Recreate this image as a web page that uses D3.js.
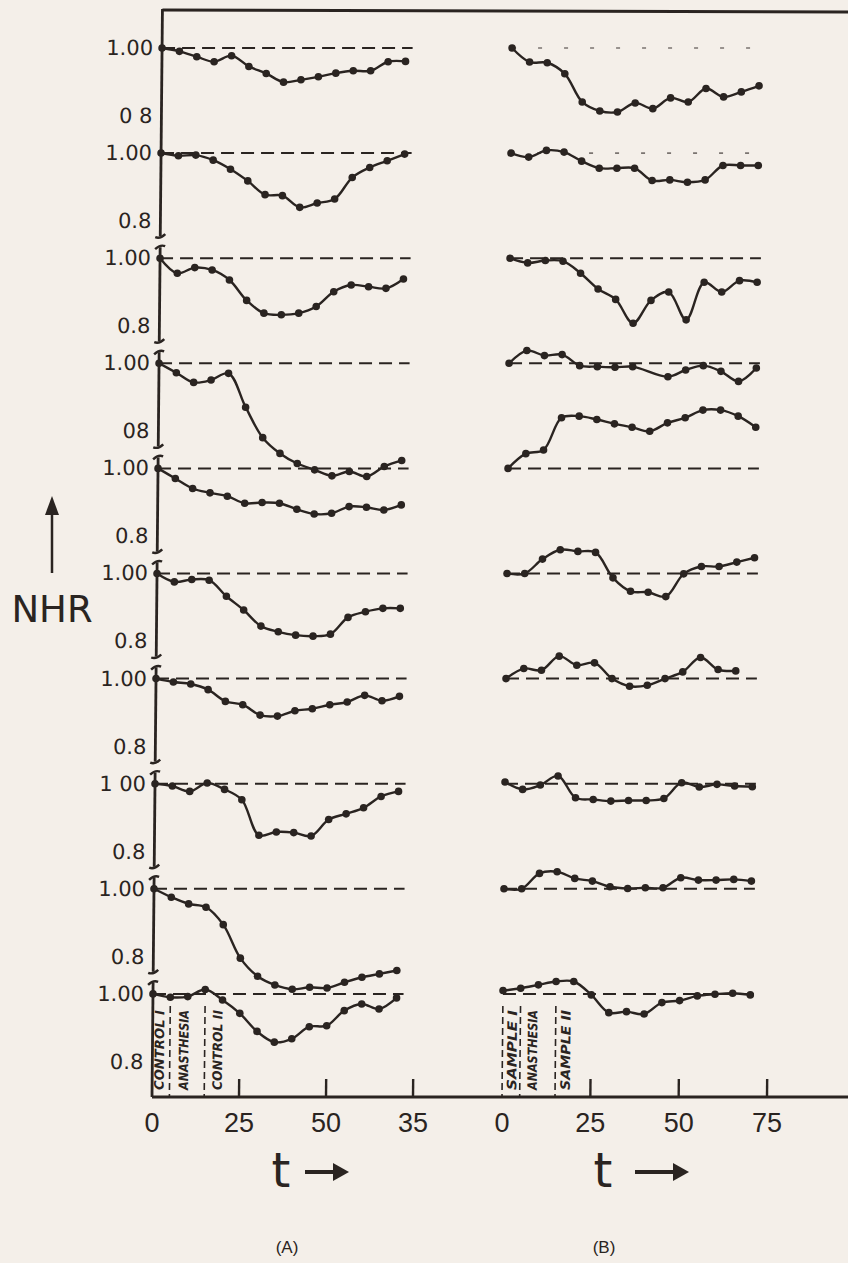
<!DOCTYPE html>
<html>
<head>
<meta charset="utf-8">
<style>
  body { margin: 0; background: #f4efe9; }
  svg { display: block; }
</style>
</head>
<body>
<svg id="viz"></svg>
<script src="https://d3js.org/d3.v7.min.js"></script>
<script>
var times = [0, 5, 10, 15, 20, 25, 30, 35, 40, 45, 50, 55, 60, 65, 70];

// panel (A), rows top to bottom
var a1 = [1.00, 0.990, 0.974, 0.959, 0.977, 0.945, 0.924, 0.898, 0.905, 0.914, 0.925, 0.932, 0.932, 0.959, 0.960];
var a2 = [1.00, 0.992, 0.994, 0.979, 0.952, 0.917, 0.876, 0.873, 0.838, 0.851, 0.863, 0.927, 0.957, 0.977, 0.997];
var a3 = [1.00, 0.955, 0.972, 0.965, 0.935, 0.874, 0.836, 0.831, 0.836, 0.856, 0.900, 0.920, 0.915, 0.910, 0.938];
var a4 = [1.00, 0.972, 0.943, 0.950, 0.970, 0.869, 0.778, 0.731, 0.701, 0.682, 0.664, 0.677, 0.662, 0.692, 0.710];
var a5 = [1.00, 0.970, 0.940, 0.927, 0.917, 0.896, 0.898, 0.896, 0.878, 0.864, 0.866, 0.886, 0.884, 0.876, 0.891];
var a6 = [1.00, 0.975, 0.982, 0.980, 0.932, 0.891, 0.843, 0.826, 0.816, 0.813, 0.819, 0.869, 0.886, 0.896, 0.896];
var a7 = [1.00, 0.990, 0.984, 0.967, 0.932, 0.922, 0.891, 0.888, 0.904, 0.910, 0.922, 0.930, 0.950, 0.934, 0.947];
var a8 = [1.00, 0.993, 0.977, 1.002, 0.983, 0.952, 0.846, 0.856, 0.854, 0.844, 0.893, 0.910, 0.928, 0.962, 0.977];
var a9 = [1.00, 0.975, 0.955, 0.945, 0.893, 0.793, 0.739, 0.713, 0.700, 0.706, 0.704, 0.721, 0.736, 0.746, 0.756];
var a10 = [1.00, 0.990, 0.992, 1.013, 0.982, 0.942, 0.888, 0.856, 0.866, 0.902, 0.905, 0.950, 0.970, 0.955, 0.988];

// panel (B), rows top to bottom (null = no reading)
var b1 = [1.00, 0.958, 0.956, 0.923, 0.839, 0.812, 0.809, 0.836, 0.819, 0.851, 0.839, 0.879, 0.854, 0.869, 0.887];
var b2 = [1.00, 0.988, 1.008, 1.003, 0.976, 0.955, 0.955, 0.955, 0.918, 0.920, 0.913, 0.920, 0.963, 0.963, 0.963];
var b3 = [1.00, 0.986, 0.993, 0.991, 0.955, 0.908, 0.877, 0.806, 0.874, 0.899, 0.816, 0.928, 0.899, 0.933, 0.928];
var b4 = [1.00, 1.038, 1.023, 1.026, 0.993, 0.990, 0.988, 0.990, null, 0.960, 0.980, 0.993, 0.976, 0.946, 0.986];
var b5 = [1.00, 1.044, 1.055, 1.151, 1.156, 1.146, 1.133, 1.123, 1.111, 1.136, 1.151, 1.174, 1.174, 1.156, 1.123];
var b6 = [1.00, 1.00, 1.043, 1.071, 1.066, 1.063, 0.987, 0.947, 0.944, 0.931, 0.999, 1.021, 1.021, 1.034, 1.047];
var b7 = [1.00, 1.030, 1.025, 1.067, 1.040, 1.047, 1.00, 0.977, 0.980, 1.00, 1.020, 1.063, 1.027, 1.023];
var b8 = [1.005, 0.983, 0.996, 1.023, 0.958, 0.953, 0.948, 0.950, 0.950, 0.956, 1.003, 0.990, 0.998, 0.993, 0.991];
var b9 = [1.00, 1.00, 1.046, 1.051, 1.031, 1.023, 1.006, 1.001, 1.003, 1.003, 1.033, 1.026, 1.026, 1.028, 1.023];
var b10 = [1.010, 1.017, 1.027, 1.037, 1.037, 0.997, 0.944, 0.947, 0.940, 0.974, 0.980, 0.994, 0.999, 1.002, 0.997];

var seriesA = [a1, a2, a3, a4, a5, a6, a7, a8, a9, a10];
var seriesB = [b1, b2, b3, b4, b5, b6, b7, b8, b9, b10];

var upperLabels = ["1.00", "1.00", "1.00", "1.00", "1.00", "1.00", "1.00", "1 00", "1.00", "1.00"];
var lowerLabels = ["0 8", "0.8", "0.8", "08", "0.8", "0.8", "0.8", "0.8", "0.8", "0.8"];

var tickValues = [0, 25, 50, 75];
var tickLabelsA = ["0", "25", "50", "35"];
var tickLabelsB = ["0", "25", "50", "75"];

var phaseLinesA = [5, 15];
var phaseNamesA = ["CONTROL I", "ANASTHESIA", "CONTROL II"];
var phaseNameTA = [2.3, 9.3, 19];
var phaseLinesB = [0, 5, 15];
var phaseNamesB = ["SAMPLE I", "ANASTHESIA", "SAMPLE II"];
var phaseNameTB = [3, 8.8, 18.2];

var width = 848, height = 1263;
var ink = "#2a2421";
var axisX = 152, axisY = 1097;
var rowTop = 48, rowStep = 105.1, rowSpan = 67;

var svg = d3.select("#viz").attr("width", width).attr("height", height);
svg.append("rect").attr("width", width).attr("height", height).attr("fill", "#f4efe9");

var xA = d3.scaleLinear().domain([0, 75]).range([axisX, 413]);
var xB = d3.scaleLinear().domain([0, 75]).range([502, 767]);

function rowY(i) {
  var base = rowTop + i * rowStep;
  return d3.scaleLinear().domain([0.8, 1.0]).range([base + rowSpan, base]);
}

// the scan leans a little, so the plot body is skewed
var g = svg.append("g")
  .attr("transform", "translate(0," + axisY + ") skewX(-0.55) translate(0," + (-axisY) + ")");

// top frame line
g.append("line")
  .attr("x1", axisX).attr("x2", 840).attr("y1", 10).attr("y2", 12)
  .attr("stroke", ink).attr("stroke-width", 3);

// broken vertical axis: one piece per row group
var pieces = [[9, rowY(1)(0.8) + 16]];
for (var i = 2; i < 9; i++) pieces.push([rowY(i)(1) - 11, rowY(i)(0.8) + 16]);
pieces.push([rowY(9)(1) - 11, axisY]);

pieces.forEach(function(p, k) {
  g.append("line")
    .attr("x1", axisX).attr("x2", axisX).attr("y1", p[0]).attr("y2", p[1])
    .attr("stroke", ink).attr("stroke-width", 2.8);
  if (k > 0) {
    g.append("path")
      .attr("d", "M" + (axisX - 5) + "," + (p[0] + 2) + " Q" + axisX + "," + (p[0] - 3) + " " + (axisX + 5) + "," + (p[0] - 1))
      .attr("fill", "none").attr("stroke", ink).attr("stroke-width", 2.4);
  }
  if (k < pieces.length - 1) {
    g.append("path")
      .attr("d", "M" + (axisX - 5) + "," + (p[1] + 1) + " Q" + axisX + "," + (p[1] + 3) + " " + (axisX + 5) + "," + (p[1] - 2))
      .attr("fill", "none").attr("stroke", ink).attr("stroke-width", 2.4);
  }
});

// row labels
seriesA.forEach(function(s, i) {
  var y = rowY(i);
  g.append("text").attr("x", axisX - 9).attr("y", y(1) + 1)
    .attr("text-anchor", "end").attr("dominant-baseline", "middle")
    .style("font-family", "DejaVu Sans").style("font-size", "21px").attr("fill", ink)
    .text(upperLabels[i]);
  g.append("text").attr("x", axisX - 9).attr("y", y(0.8) + 2)
    .attr("text-anchor", "end").attr("dominant-baseline", "middle")
    .style("font-family", "DejaVu Sans").style("font-size", "21px").attr("fill", ink)
    .text(lowerLabels[i]);
});

function drawPanel(series, x, tEnd, faint) {
  series.forEach(function(s, i) {
    var y = rowY(i);
    var pts = [];
    s.forEach(function(v, j) { if (v !== null) pts.push({ t: times[j], v: v }); });

    g.append("line")
      .attr("x1", x(0)).attr("x2", x(tEnd)).attr("y1", y(1)).attr("y2", y(1))
      .attr("stroke", ink)
      .attr("stroke-width", faint.indexOf(i) >= 0 ? 1.6 : 2)
      .attr("stroke-dasharray", faint.indexOf(i) >= 0 ? "4,22" : "13,7")
      .attr("opacity", faint.indexOf(i) >= 0 ? 0.6 : 1);

    var line = d3.line()
      .x(function(d) { return x(d.t); })
      .y(function(d) { return y(d.v); })
      .curve(d3.curveCatmullRom.alpha(0.5));

    g.append("path").datum(pts)
      .attr("d", line)
      .attr("fill", "none").attr("stroke", ink).attr("stroke-width", 2.4);

    g.append("g").selectAll("circle")
      .data(pts)
      .enter()
      .append("circle")
      .attr("cx", function(d) { return x(d.t); })
      .attr("cy", function(d) { return y(d.v); })
      .attr("r", 3.8)
      .attr("fill", ink);
  });
}

drawPanel(seriesA, xA, 72, []);
drawPanel(seriesB, xB, 71, [0, 1]);

// bottom axis and ticks
g.append("line")
  .attr("x1", axisX).attr("x2", width).attr("y1", axisY).attr("y2", axisY)
  .attr("stroke", ink).attr("stroke-width", 3);

[[xA, tickLabelsA], [xB, tickLabelsB]].forEach(function(p) {
  var x = p[0];
  tickValues.slice(1).forEach(function(t) {
    g.append("line").attr("x1", x(t)).attr("x2", x(t)).attr("y1", axisY).attr("y2", axisY - 18)
      .attr("stroke", ink).attr("stroke-width", 2.4);
  });
  tickValues.forEach(function(t, k) {
    svg.append("text").attr("x", x(t)).attr("y", 1132)
      .attr("text-anchor", "middle")
      .style("font-family", "Liberation Sans").style("font-size", "27px").attr("fill", ink)
      .text(p[1][k]);
  });
});

// phase annotations at the foot of each panel
function phases(x, lines, names, nameT) {
  lines.forEach(function(t) {
    g.append("line").attr("x1", x(t)).attr("x2", x(t)).attr("y1", 1006).attr("y2", axisY)
      .attr("stroke", ink).attr("stroke-width", 1.6).attr("stroke-dasharray", "7,4");
  });
  names.forEach(function(n, k) {
    var cx = x(nameT[k]), cy = 1050;
    g.append("text")
      .attr("transform", "translate(" + cx + "," + cy + ") rotate(-90)")
      .attr("text-anchor", "middle").attr("dominant-baseline", "middle")
      .style("font-family", "DejaVu Sans Condensed, DejaVu Sans").style("font-size", "13px")
      .style("font-weight", "bold").style("font-style", "italic")
      .attr("textLength", 80).attr("lengthAdjust", "spacingAndGlyphs")
      .attr("fill", ink)
      .text(n);
  });
}
phases(xA, phaseLinesA, phaseNamesA, phaseNameTA);
phases(xB, phaseLinesB, phaseNamesB, phaseNameTB);

// NHR label with arrow
svg.append("line").attr("x1", 52).attr("x2", 52).attr("y1", 573).attr("y2", 510)
  .attr("stroke", ink).attr("stroke-width", 2.5);
svg.append("path").attr("d", "M45,515 L52,496 L59,515 Z").attr("fill", ink);
svg.append("text").attr("x", 52).attr("y", 622).attr("text-anchor", "middle")
  .style("font-family", "DejaVu Sans").style("font-size", "37px").attr("fill", ink)
  .text("NHR");

// t -> labels
[[281, 305, 349], [603, 635, 689]].forEach(function(p) {
  svg.append("text").attr("x", p[0]).attr("y", 1187).attr("text-anchor", "middle")
    .style("font-family", "DejaVu Sans").style("font-size", "48px").attr("fill", ink)
    .text("t");
  svg.append("line").attr("x1", p[1]).attr("x2", p[2] - 12).attr("y1", 1172).attr("y2", 1172)
    .attr("stroke", ink).attr("stroke-width", 4);
  svg.append("path")
    .attr("d", "M" + (p[2] - 16) + ",1163 L" + p[2] + ",1172 L" + (p[2] - 16) + ",1181 Z")
    .attr("fill", ink);
});

svg.append("text").attr("x", 287).attr("y", 1253).attr("text-anchor", "middle")
  .style("font-family", "Liberation Sans").style("font-size", "17px").attr("fill", ink).text("(A)");
svg.append("text").attr("x", 604).attr("y", 1253).attr("text-anchor", "middle")
  .style("font-family", "Liberation Sans").style("font-size", "17px").attr("fill", ink).text("(B)");
</script>
</body>
</html>
